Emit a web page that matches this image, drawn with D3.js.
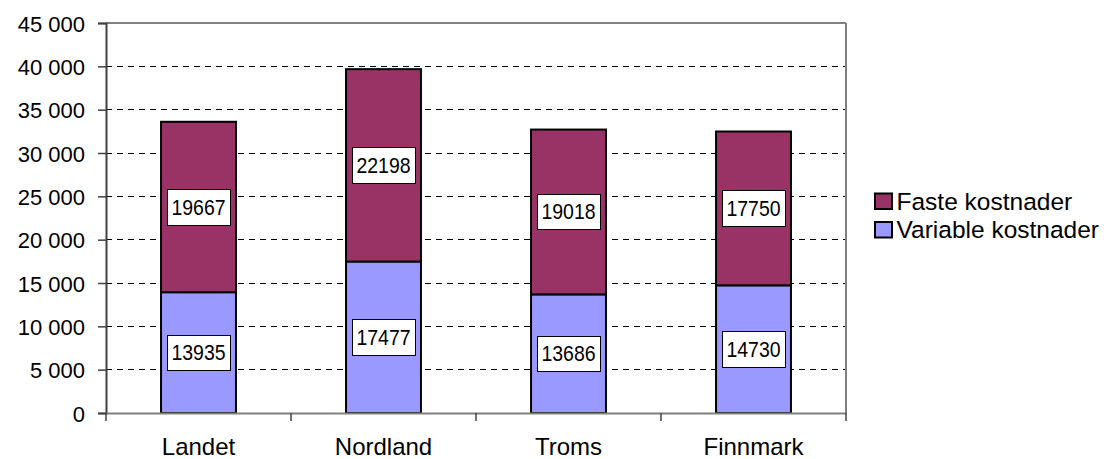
<!DOCTYPE html>
<html>
<head>
<meta charset="utf-8">
<script src="https://cdn.jsdelivr.net/npm/d3@7"></script>
<style>
  html, body { margin: 0; padding: 0; background: #fff; }
  svg { display: block; font-family: Arial, "Liberation Sans", sans-serif; }
</style>
</head>
<body>
<svg id="chart" width="1104" height="459"></svg>
<script>
const categories = ["Landet", "Nordland", "Troms", "Finnmark"];
const variableKostnader = [13935, 17477, 13686, 14730];
const fasteKostnader = [19667, 22198, 19018, 17750];
const seriesNames = ["Variable kostnader", "Faste kostnader"];
const seriesColors = ["#9999FF", "#993366"];
const yTicks = [0, 5000, 10000, 15000, 20000, 25000, 30000, 35000, 40000, 45000];

(function () {
const svg = d3.select("#chart");
const pLeft = 106, pRight = 846, pTop = 23, pBottom = 413;

const x = d3.scaleBand().domain(categories).range([pLeft, pRight]).paddingInner(0).paddingOuter(0);
const y = d3.scaleLinear().domain([0, 45000]).range([pBottom, pTop]);
const barW = x.bandwidth() * 0.405;

const fmt = v => d3.format(",")(v).replace(/,/g, " ");

// gridlines (dashed)
svg.append("g").selectAll("line").data(yTicks.filter(t => t > 0 && t < 45000)).join("line")
  .attr("x1", pLeft).attr("x2", pRight)
  .attr("y1", d => y(d)).attr("y2", d => y(d))
  .attr("stroke", "#000").attr("stroke-width", 1).attr("stroke-dasharray", "6,5")
  .attr("shape-rendering", "crispEdges");

// plot border top & right
svg.append("line").attr("x1", pLeft).attr("x2", pRight).attr("y1", y(45000)).attr("y2", y(45000))
  .attr("stroke", "#808080").attr("stroke-width", 2);
svg.append("line").attr("x1", pRight).attr("x2", pRight).attr("y1", pTop).attr("y2", pBottom)
  .attr("stroke", "#808080").attr("stroke-width", 2);

// stacked data
const data = categories.map((c, i) => ({ cat: c, v: variableKostnader[i], f: fasteKostnader[i] }));
const segs = [];
data.forEach(d => {
  segs.push({ cat: d.cat, y0: 0, y1: d.v, val: d.v, s: 0 });
  segs.push({ cat: d.cat, y0: d.v, y1: d.v + d.f, val: d.f, s: 1 });
});

svg.append("g").selectAll("rect").data(segs).join("rect")
  .attr("x", d => x(d.cat) + x.bandwidth() / 2 - barW / 2)
  .attr("width", barW)
  .attr("y", d => y(d.y1))
  .attr("height", d => y(d.y0) - y(d.y1))
  .attr("fill", d => seriesColors[d.s])
  .attr("stroke", "#000").attr("stroke-width", 2);

// value labels
const lbl = svg.append("g").selectAll("g").data(segs).join("g")
  .attr("transform", d => `translate(${x(d.cat) + x.bandwidth() / 2},${y((d.y0 + d.y1) / 2)})`);
lbl.append("rect").attr("x", -31.5).attr("y", -17.5).attr("width", 63).attr("height", 35.5)
  .attr("fill", "#fff").attr("stroke", "#000").attr("stroke-width", 1).attr("shape-rendering", "crispEdges");
lbl.append("text").attr("text-anchor", "middle").attr("transform", "translate(0,7.5) scale(1,1.1)")
  .attr("font-size", 19.5).text(d => d.val);

// y axis
const yAxis = svg.append("g").attr("transform", `translate(${pLeft},0)`)
  .call(d3.axisLeft(y).tickValues(yTicks).tickSize(8).tickPadding(13).tickFormat(fmt));
yAxis.select(".domain").attr("stroke", "#404040").attr("stroke-width", 2);
yAxis.selectAll(".tick line").attr("stroke", "#404040").attr("stroke-width", 1.5);
yAxis.selectAll("text").attr("font-size", 22).attr("font-family", "Arial, 'Liberation Sans', sans-serif")
  .attr("fill", "#000").attr("dy", null).attr("y", 8);

// x axis
const xAxis = svg.append("g").attr("transform", `translate(0,${pBottom})`)
  .call(d3.axisBottom(x).tickSize(0).tickPadding(28).tickFormat(d => d));
xAxis.select(".domain").attr("stroke", "#808080").attr("stroke-width", 2);
xAxis.selectAll("text").attr("font-size", 24).attr("font-family", "Arial, 'Liberation Sans', sans-serif")
  .attr("fill", "#000").attr("dy", null).attr("y", 41.5);
// category boundary ticks
const bounds = categories.map(c => x(c)).concat([pRight]);
svg.append("g").selectAll("line").data(bounds).join("line")
  .attr("x1", d => d).attr("x2", d => d).attr("y1", pBottom).attr("y2", pBottom + 8)
  .attr("stroke", "#404040").attr("stroke-width", 1.5);

// legend
const legend = svg.append("g").attr("transform", "translate(874,0)");
const legItems = [{ name: seriesNames[1], color: seriesColors[1], cy: 201 }, { name: seriesNames[0], color: seriesColors[0], cy: 229.5 }];
const li = legend.selectAll("g").data(legItems).join("g").attr("transform", d => `translate(0,${d.cy})`);
li.append("rect").attr("x", 1).attr("y", -7.5).attr("width", 17).attr("height", 15.5)
  .attr("fill", d => d.color).attr("stroke", "#000").attr("stroke-width", 2);
li.append("text").attr("x", 22.5).attr("y", 8.5).attr("font-size", 24.5).text(d => d.name);
})();
</script>
</body>
</html>
